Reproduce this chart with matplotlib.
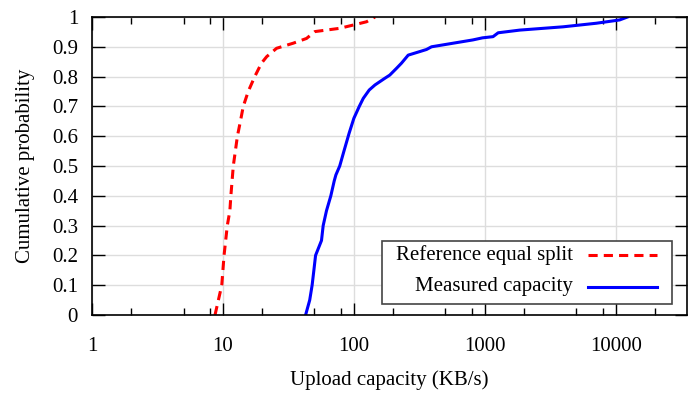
import matplotlib.pyplot as plt
from matplotlib.ticker import FixedLocator, NullFormatter
from matplotlib.patches import Rectangle
from matplotlib.lines import Line2D

plt.rcParams['font.family'] = ['Liberation Serif', 'DejaVu Serif']
plt.rcParams['font.size'] = 15

# CDF: (KB/s, cumulative probability)
equal_x = [8.7, 9.8, 10.2, 10.8, 11.3, 11.5, 12.0, 12.9, 13.6, 14.3, 15.6, 17.5,
           19.7, 21.6, 25.7, 34.4, 43.5, 50.4, 78, 99, 125, 145]
equal_y = [0.0, 0.1, 0.2, 0.3, 0.35, 0.4, 0.5, 0.6, 0.65, 0.7, 0.75, 0.8,
           0.845, 0.867, 0.895, 0.912, 0.928, 0.951, 0.962, 0.973, 0.984, 1.0]

meas_x = [42.8, 46, 48, 49.5, 51, 56.6, 58.3, 61.8, 66.7, 70.8, 72.9, 78, 84, 92,
          100, 110, 118, 131, 145, 172, 188, 212, 231, 260, 319, 359, 392, 810,
          960, 1156, 1265, 1850, 3960, 7100, 10700, 12300]
meas_y = [0.0, 0.05, 0.1, 0.15, 0.2, 0.25, 0.3, 0.35, 0.4, 0.45, 0.47, 0.5, 0.55, 0.61,
          0.66, 0.70, 0.727, 0.755, 0.772, 0.794, 0.805, 0.828, 0.845, 0.872, 0.884,
          0.891, 0.900, 0.923, 0.930, 0.934, 0.947, 0.956, 0.967, 0.979, 0.99, 1.0]

labels = ['Reference equal split', 'Measured capacity']

fig = plt.figure(figsize=(7, 3.95), dpi=100)
ax = fig.add_axes([0.1314, 0.2025, 0.85, 0.7545])

ax.plot(equal_x, equal_y, color='red', lw=2.2, dashes=(3, 2))
ax.plot(meas_x, meas_y, color='blue', lw=2.2)

ax.set_xscale('log')
ax.set_xlim(1, 35000)
ax.set_ylim(0, 1)

ax.xaxis.set_major_locator(FixedLocator([1, 10, 100, 1000, 10000]))
ax.set_xticklabels(['1', '10', '100', '1000', '10000'])
minors = [m * 10 ** d for d in range(0, 5) for m in (2, 5, 8)]
ax.xaxis.set_minor_locator(FixedLocator(minors))
ax.xaxis.set_minor_formatter(NullFormatter())
yt = [i / 10 for i in range(11)]
ax.set_yticks(yt)
ax.set_yticklabels(['0'] + ['%.1f' % v for v in yt[1:-1]] + ['1'])

ax.tick_params(which='major', direction='in', length=9, width=1, top=True, right=True)
ax.tick_params(axis='x', which='major', pad=16)
ax.tick_params(axis='y', which='major', pad=10)
ax.tick_params(which='minor', direction='in', length=5, width=1, top=True)
ax.grid(True, which='major', color='#dddddd', lw=1)
ax.set_axisbelow(True)
for s in ax.spines.values():
    s.set_linewidth(1.2)

ax.set_xlabel('Upload capacity (KB/s)', labelpad=10)
ax.set_ylabel('Cumulative probability', labelpad=12)

# gnuplot style legend: text right-aligned, sample to the right
box = Rectangle((0.487, 0.037), 0.488, 0.211, transform=ax.transAxes,
                facecolor='white', edgecolor='#444444', lw=1.2, zorder=5)
ax.add_patch(box)
rows_y = [0.201, 0.094]
styles = [dict(color='red', lw=2.2, dashes=(3, 2)), dict(color='blue', lw=2.2)]
for lab, ry, st in zip(labels, rows_y, styles):
    ax.text(0.8084, ry, lab, transform=ax.transAxes, ha='right', va='center', zorder=6)
    ax.add_line(Line2D([0.834, 0.95], [ry, ry], transform=ax.transAxes, zorder=6, **st))

fig.savefig('out.png', dpi=100)
